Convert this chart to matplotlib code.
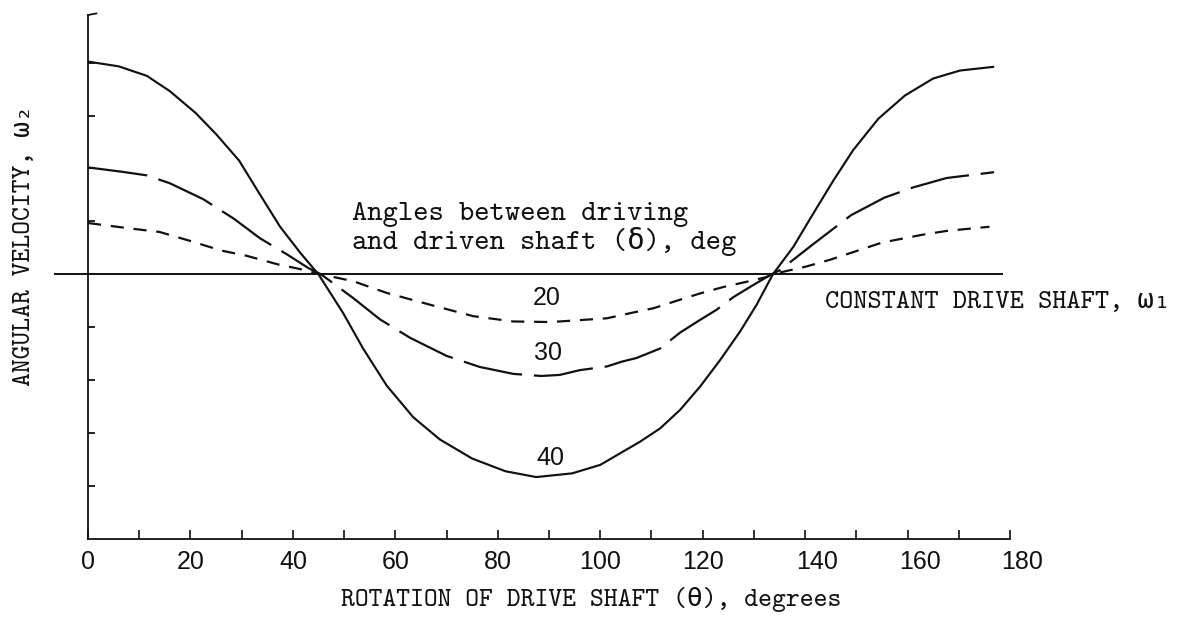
import matplotlib
matplotlib.use("Agg")
import matplotlib.pyplot as plt
from matplotlib.lines import Line2D
from matplotlib.transforms import ScaledTranslation

plt.rcParams['lines.scale_dashes'] = False

# Rotation of the drive shaft (deg) and driven-shaft angular velocity
# (offset from the constant drive-shaft speed, arbitrary units) for each joint angle.
theta_40 = [0, 6, 11.5, 16, 21, 25, 29.5, 33.5, 37.5, 41.5, 45, 49.8, 53.7, 58.3,
            63.5, 68.7, 75, 81.5, 87.5, 94.5, 100, 103.9, 107.8, 111.7, 115.6,
            119.5, 123.4, 127.3, 130.5, 133.7, 137.7, 141.6, 145.5, 149.4, 154.3,
            159.5, 165, 170.2, 176.7]
omega_40 = [4.02, 3.93, 3.75, 3.46, 3.05, 2.65, 2.15, 1.52, 0.90, 0.40, 0.0, -0.73,
            -1.40, -2.10, -2.70, -3.12, -3.48, -3.72, -3.83, -3.76, -3.60, -3.38,
            -3.16, -2.91, -2.56, -2.12, -1.62, -1.08, -0.58, 0.0, 0.52, 1.15, 1.77,
            2.35, 2.94, 3.38, 3.70, 3.85, 3.92]

theta_30 = [0, 6.5, 11.5, 16, 22.5, 28.5, 33.6, 38.8, 43, 45.5, 47.9, 51.8, 57,
            62.9, 70, 76.5, 83, 88.5, 92.1, 96, 101.3, 104.2, 107.1, 111.7, 115.6,
            119.5, 122.7, 126, 129.9, 133.4, 135.1, 141.3, 149, 155.5, 161, 167.6,
            176.9]
omega_30 = [2.02, 1.94, 1.87, 1.72, 1.42, 1.05, 0.68, 0.38, 0.12, 0.0, -0.17, -0.45,
            -0.85, -1.20, -1.54, -1.75, -1.88, -1.92, -1.90, -1.81, -1.74, -1.65,
            -1.58, -1.40, -1.10, -0.86, -0.67, -0.43, -0.20, 0.0, 0.08, 0.55, 1.12,
            1.45, 1.64, 1.82, 1.93]

theta_20 = [0, 8, 14, 20, 26, 31, 37, 41.4, 45.5, 51.8, 58.3, 67.4, 75.2, 83, 89.5,
            92.1, 101.3, 106.5, 110.4, 114.9, 119.5, 124, 128.6, 132.5, 133.5,
            140.3, 145, 155, 163, 167.6, 176]
omega_20 = [0.97, 0.87, 0.80, 0.63, 0.45, 0.35, 0.19, 0.10, 0.0, -0.13, -0.35,
            -0.59, -0.79, -0.89, -0.90, -0.89, -0.83, -0.72, -0.64, -0.50, -0.36,
            -0.24, -0.14, -0.05, 0.0, 0.15, 0.28, 0.60, 0.75, 0.82, 0.90]

joint_angles = ["20", "30", "40"]

x_ticks = list(range(0, 181, 10))
x_tick_labels = [str(t) if t % 20 == 0 else "" for t in x_ticks]
y_ticks = [-4, -3, -2, -1, 0, 1, 2, 3, 4]

drive_line_theta = [-6.4, 178.4]
drive_line_omega = [0, 0]

MONO = ['cmtt10', 'DejaVu Sans Mono']
SANS = ['Liberation Sans', 'DejaVu Sans']

fig = plt.figure(figsize=(11.84, 6.18), dpi=100)
ax = fig.add_axes([88 / 1184, 79 / 618, (1010 - 88) / 1184, (539 - 15) / 618])
ax.set_xlim(0, 180)
ax.set_ylim(-5, 4.9)

ink = '#111111'
for side in ('top', 'right'):
    ax.spines[side].set_visible(False)
for side in ('left', 'bottom'):
    ax.spines[side].set_linewidth(1.3)
    ax.spines[side].set_color(ink)

ax.set_xticks(x_ticks)
ax.set_xticklabels(x_tick_labels, fontfamily=SANS, fontsize=18)
ax.set_yticks(y_ticks)
ax.set_yticklabels([])
ax.tick_params(axis='x', direction='in', length=6.5, width=1.2, pad=8, colors=ink)
ax.tick_params(axis='y', direction='in', length=5, width=1.3, colors=ink)

# the hand-lettered labels near the right end sit a little right of their ticks
for t, lab in zip(x_ticks, ax.get_xticklabels()):
    if t >= 140:
        lab.set_transform(lab.get_transform() +
                          ScaledTranslation(12 / 100, 0, fig.dpi_scale_trans))

# small hook at the top of the vertical axis
ax.add_line(Line2D([0, 0.009], [1.0, 1.003], transform=ax.transAxes,
                   color=ink, lw=1.3, clip_on=False))

# constant drive-shaft reference line
ax.plot(drive_line_theta, drive_line_omega, color=ink, lw=1.4, clip_on=False)

ax.plot(theta_40, omega_40, color=ink, lw=1.55, solid_joinstyle='round')
ax.plot(theta_30, omega_30, color=ink, lw=1.6, dashes=(43, 8.5),
        dash_joinstyle='round')
ax.plot(theta_20, omega_20, color=ink, lw=1.6, dashes=(9.5, 7))

label_pos = [(89.6, -0.44), (89.8, -1.48), (90.2, -3.47)]
for txt, (lx, ly) in zip(joint_angles, label_pos):
    ax.text(lx, ly, txt, ha='center', va='center', fontsize=18,
            fontfamily=SANS, color=ink)

fig.text(352 / 1184, 1 - 215 / 618, "Angles between driving",
         ha='left', va='center', fontsize=21, fontfamily=MONO, color=ink)
fig.text(352 / 1184, 1 - 241 / 618, "and driven shaft (δ), deg",
         ha='left', va='center', fontsize=21, fontfamily=MONO, color=ink)
fig.text(825 / 1184, 1 - 303 / 618, "CONSTANT DRIVE SHAFT, ω\u2081",
         ha='left', va='center', fontsize=19.5, fontfamily=MONO, color=ink)
fig.text(591 / 1184, 1 - 600 / 618, "ROTATION OF DRIVE SHAFT (θ), degrees",
         ha='center', va='center', fontsize=19, fontfamily=MONO, color=ink)
fig.text(25 / 1184, 1 - 246 / 618, "ANGULAR VELOCITY, ω\u2082",
         ha='center', va='center', rotation=90, fontsize=19, fontfamily=MONO,
         color=ink)

fig.savefig("out.png", dpi=100, facecolor='white')
